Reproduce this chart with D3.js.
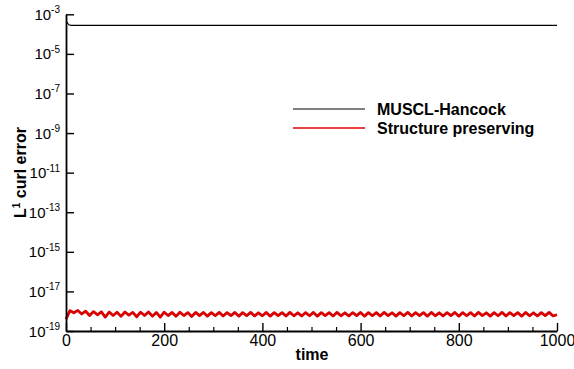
<!DOCTYPE html>
<html>
<head>
<meta charset="utf-8">
<script src="https://cdn.jsdelivr.net/npm/d3@7"></script>
<style>
  body { margin: 0; background: #fff; }
  svg { font-family: "Liberation Sans", Arial, sans-serif; }
</style>
</head>
<body>
<div id="chart"></div>
<script>
// Data (error values stored as log10 exponents)
const seriesNames = ['MUSCL-Hancock', 'Structure preserving'];

const musclTime = [0, 2, 4, 6, 10, 20, 100, 200, 300, 400, 500, 600, 700, 800, 900, 1000];
const musclExp = [-3.42, -3.40, -3.47, -3.53, -3.56, -3.56, -3.56, -3.56, -3.56, -3.56, -3.56, -3.56, -3.56, -3.56, -3.56, -3.56];

// structure preserving: sampled every 8 time units (peaks / troughs of the oscillation)
const spStep = 8;
const spExp = [
  -18.40, -17.97, -18.08, -17.96, -18.14, -18.00, -18.22, -18.02, -18.18, -18.03,
  -18.30, -18.04, -18.22, -18.05, -18.26, -18.04, -18.20, -18.06, -18.28, -18.05,
  -18.22, -18.04, -18.25, -18.06, -18.30, -18.05, -18.22, -18.06, -18.26, -18.05,
  -18.22, -18.07, -18.27, -18.06, -18.22, -18.06, -18.25, -18.07, -18.23, -18.06,
  -18.24, -18.07, -18.22, -18.06, -18.25, -18.07, -18.23, -18.06, -18.24, -18.08,
  -18.23, -18.06, -18.25, -18.07, -18.22, -18.07, -18.24, -18.06, -18.23, -18.08,
  -18.24, -18.07, -18.23, -18.06, -18.25, -18.07, -18.22, -18.07, -18.24, -18.06,
  -18.23, -18.08, -18.24, -18.07, -18.22, -18.06, -18.25, -18.07, -18.23, -18.07,
  -18.24, -18.06, -18.22, -18.08, -18.25, -18.07, -18.23, -18.06, -18.24, -18.07,
  -18.22, -18.07, -18.25, -18.06, -18.23, -18.08, -18.24, -18.07, -18.22, -18.06,
  -18.25, -18.07, -18.23, -18.07, -18.24, -18.06, -18.22, -18.08, -18.25, -18.07,
  -18.23, -18.06, -18.24, -18.07, -18.22, -18.07, -18.25, -18.06, -18.23, -18.08,
  -18.24, -18.07, -18.22, -18.06, -18.24, -18.18
];

const yTickExp = [-3, -5, -7, -9, -11, -13, -15, -17, -19];
const xMajorTicks = [0, 200, 400, 600, 800, 1000];
const xMinorTicks = [50, 100, 150, 250, 300, 350, 450, 500, 550, 650, 700, 750, 850, 900, 950];

const width = 574;
const height = 369;
const plot = { left: 66, right: 557, top: 14.3, bottom: 331 };

const svg = d3.select('#chart')
  .append('svg')
  .attr('width', width)
  .attr('height', height);

const x = d3.scaleLinear()
  .domain([0, 1000])
  .range([plot.left, plot.right]);

const y = d3.scaleLog()
  .domain([1e-19, 1e-3])
  .range([plot.bottom, plot.top]);

// Lines
const line = d3.line()
  .x(d => x(d.t))
  .y(d => y(Math.pow(10, d.e)));

const musclData = musclTime.map((t, i) => ({ t: t, e: musclExp[i] }));
const spData = spExp.map((e, i) => ({ t: Math.min(i * spStep, 1000), e: e }));

svg.append('path')
  .datum(spData)
  .attr('d', line)
  .attr('fill', 'none')
  .attr('stroke', '#d80000')
  .attr('stroke-width', 2.8)
  .attr('stroke-linejoin', 'round');

svg.append('path')
  .datum(musclData)
  .attr('d', line)
  .attr('fill', 'none')
  .attr('stroke', '#000')
  .attr('stroke-width', 1.1);

// X axis
const xAxis = svg.append('g')
  .attr('transform', `translate(0,${plot.bottom})`)
  .call(d3.axisBottom(x)
    .tickValues(xMinorTicks)
    .tickSizeInner(-4)
    .tickSizeOuter(0)
    .tickFormat(''));
xAxis.select('.domain').remove();

const xAxisMajor = svg.append('g')
  .attr('transform', `translate(0,${plot.bottom})`)
  .call(d3.axisBottom(x)
    .tickValues(xMajorTicks)
    .tickSizeInner(-8)
    .tickSizeOuter(0)
    .tickPadding(4)
    .tickFormat(d3.format('d')));
xAxisMajor.select('.domain').attr('stroke-width', 1.8);
xAxisMajor.selectAll('line').attr('stroke-width', 1.4);
xAxis.selectAll('line').attr('stroke-width', 1.2);
xAxisMajor.selectAll('text')
  .attr('font-size', 16)
  .attr('font-family', '"Liberation Sans", Arial, sans-serif')
  .attr('fill', '#000');

// Y axis
const yAxis = svg.append('g')
  .attr('transform', `translate(${plot.left},0)`)
  .call(d3.axisLeft(y)
    .tickValues(yTickExp.map(e => Math.pow(10, e)))
    .tickSizeInner(-8)
    .tickSizeOuter(0)
    .tickFormat(''));
yAxis.select('.domain').attr('stroke-width', 1.8);
yAxis.selectAll('line').attr('stroke-width', 1.4);

const yLabels = svg.append('g');
yTickExp.forEach(e => {
  const t = yLabels.append('text')
    .attr('x', 60)
    .attr('y', y(Math.pow(10, e)) + 5.5)
    .attr('text-anchor', 'end')
    .attr('font-size', 15)
    .attr('fill', '#000');
  t.append('tspan').text('10');
  t.append('tspan')
    .attr('dy', -6.5)
    .attr('font-size', 10)
    .text(String(e));
});

// Axis titles
svg.append('text')
  .attr('x', 312)
  .attr('y', 360)
  .attr('text-anchor', 'middle')
  .attr('font-size', 16)
  .attr('font-weight', 'bold')
  .text('time');

const yTitle = svg.append('text')
  .attr('transform', 'translate(25.5,172.5) rotate(-90)')
  .attr('text-anchor', 'middle')
  .attr('font-size', 16)
  .attr('font-weight', 'bold');
yTitle.append('tspan').text('L');
yTitle.append('tspan').attr('dy', -6).attr('font-size', 10).text('1');
yTitle.append('tspan').attr('dy', 6).text(' curl error');

// Legend
const legendColors = ['#000', '#e00000'];
const legend = svg.append('g');
seriesNames.forEach((name, i) => {
  const ly = 109 + i * 19;
  legend.append('line')
    .attr('x1', 293).attr('x2', 365)
    .attr('y1', ly).attr('y2', ly)
    .attr('stroke', legendColors[i])
    .attr('stroke-width', i === 0 ? 1.1 : 1.5);
  legend.append('text')
    .attr('x', 377)
    .attr('y', ly + 5.5)
    .attr('font-size', 16)
    .attr('font-weight', 'bold')
    .text(name);
});
</script>
</body>
</html>
